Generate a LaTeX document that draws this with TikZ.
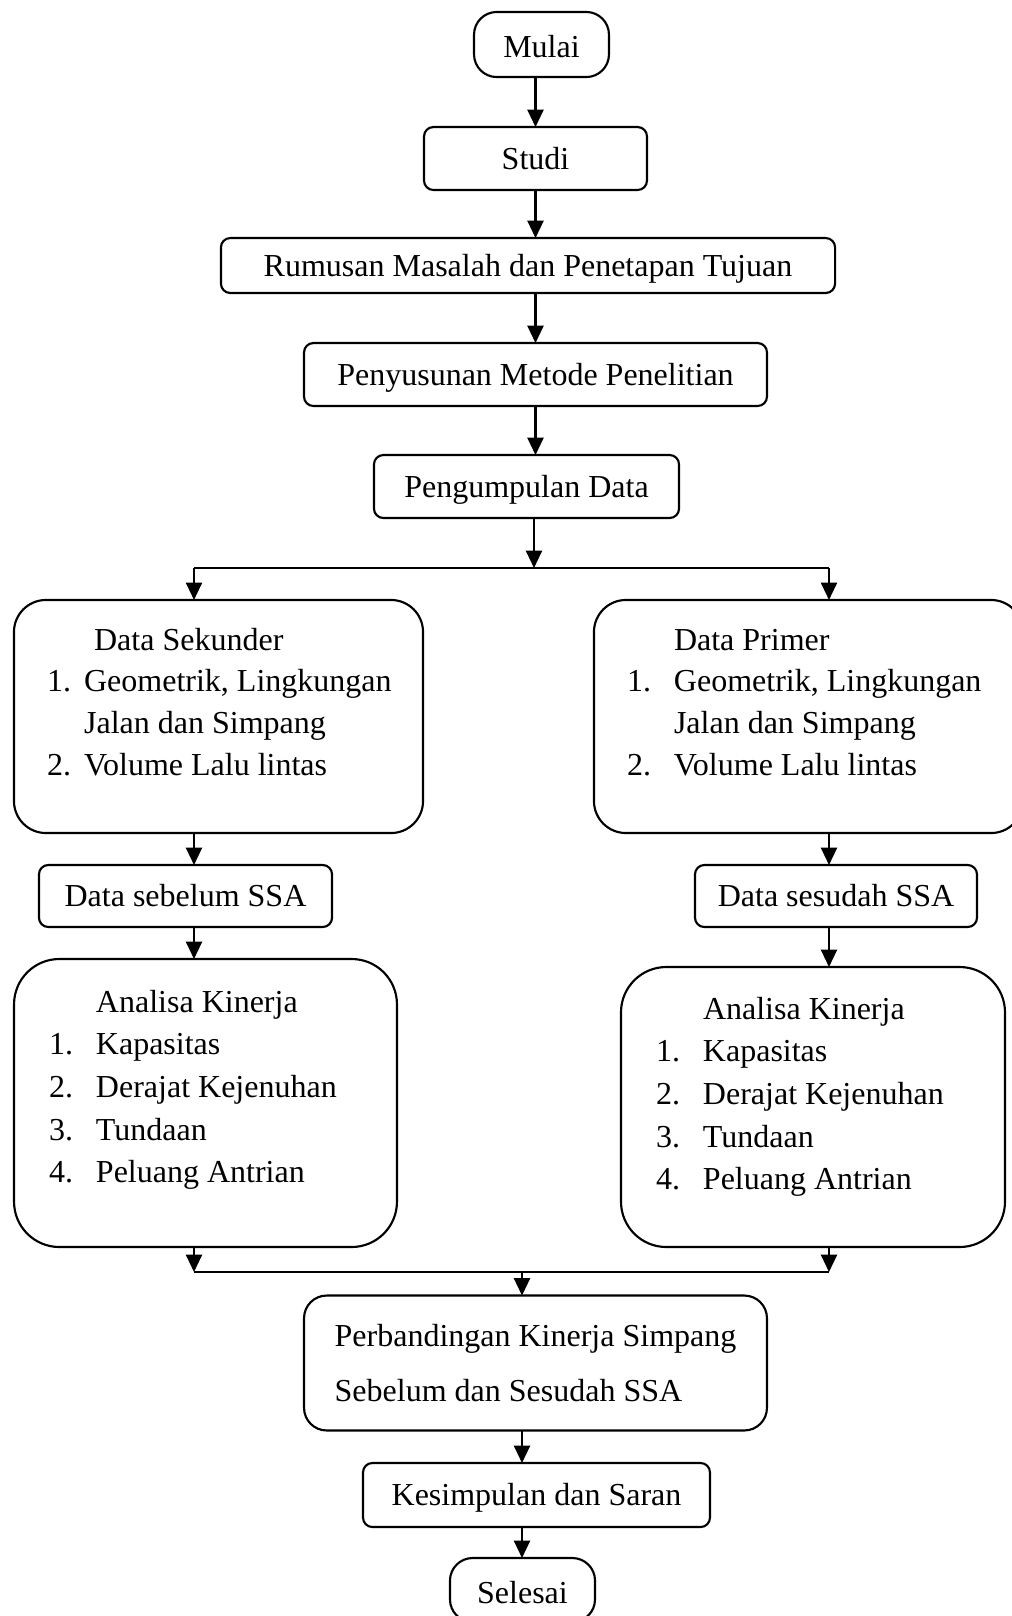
\documentclass[tikz,border=0pt]{standalone}
\usepackage{fontspec}
\setmainfont{Liberation Serif}
\usetikzlibrary{arrows.meta,positioning}
\tikzset{>={Triangle[length=6.5pt,width=6pt]}}

\begin{document}
\begin{tikzpicture}[x=0.375pt, y=-0.375pt, line width=0.8pt, font=\fontsize{12pt}{15.7pt}\selectfont,
    frame/.style={draw, rounded corners=3.5pt, inner sep=0pt, outer sep=0pt},
    box/.style={frame, text height=8.2pt, text depth=0pt},
    startstop/.style={box, rounded corners=8.5pt, text height=10pt},
    bigbox/.style={frame, rounded corners=12pt},
    flow/.style={->},
    list/.style={inner sep=0pt, anchor=base west}]

    \useasboundingbox (0,0) rectangle (1012,1616);

    % Top chain
    \node[startstop, minimum width=50.6pt, minimum height=24.4pt] (mulai) at (541.5,44.5) {Mulai};
    \node[box, minimum width=83.6pt, minimum height=23.6pt] (studi) at (535.5,158.5) {Studi};
    \node[box, minimum width=230.3pt, minimum height=20.6pt] (rumusan) at (528,265.5) {Rumusan Masalah dan Penetapan Tujuan};
    \node[box, minimum width=173.6pt, minimum height=23.6pt] (metode) at (535.5,374.5) {Penyusunan Metode Penelitian};
    \node[box, minimum width=114.4pt, minimum height=23.6pt] (pengumpulan) at (526.5,486.5) {Pengumpulan Data};

    % Data boxes
    \node[bigbox, minimum width=153.4pt, minimum height=87.4pt] (sekunder) at (218.5,716.5) {};
    \node[bigbox, minimum width=160.9pt, minimum height=87.4pt] (primer) at (808.5,716.5) {};
    \node[list] (sekunderTxt) at (46,650) {\begin{tabular}[t]{@{}l@{\hspace{4.9pt}}l@{}}
        & \hspace{3.75pt}Data Sekunder\\
        1. & Geometrik, Lingkungan\\
        & Jalan dan Simpang\\
        2. & Volume Lalu lintas
    \end{tabular}};
    \node[list] (primerTxt) at (626,650) {\begin{tabular}[t]{@{}l@{\hspace{8.6pt}}l@{}}
        & Data Primer\\
        1. & Geometrik, Lingkungan\\
        & Jalan dan Simpang\\
        2. & Volume Lalu lintas
    \end{tabular}};

    \node[box, minimum width=109.9pt, minimum height=23.25pt] (sebelum) at (185.5,896) {Data sebelum SSA};
    \node[box, minimum width=105.75pt, minimum height=23.25pt] (sesudah) at (836,896) {Data sesudah SSA};

    % Analisa boxes
    \node[frame, rounded corners=17pt, minimum width=143.6pt, minimum height=108pt] (analisaL) at (205.5,1103) {};
    \node[frame, rounded corners=17pt, minimum width=144pt, minimum height=105pt] (analisaR) at (813,1107) {};
    \node[list, font=\fontsize{12pt}{16pt}\selectfont] (analisaLTxt) at (48,1012) {\begin{tabular}[t]{@{}l@{\hspace{8.6pt}}l@{}}
        & Analisa Kinerja\\
        1. & Kapasitas\\
        2. & Derajat Kejenuhan\\
        3. & Tundaan\\
        4. & Peluang Antrian
    \end{tabular}};
    \node[list, font=\fontsize{12pt}{16pt}\selectfont] (analisaRTxt) at (655,1019) {\begin{tabular}[t]{@{}l@{\hspace{8.6pt}}l@{}}
        & Analisa Kinerja\\
        1. & Kapasitas\\
        2. & Derajat Kejenuhan\\
        3. & Tundaan\\
        4. & Peluang Antrian
    \end{tabular}};

    % Bottom chain
    \node[frame, rounded corners=8.5pt, align=left, minimum width=173.6pt, minimum height=50.6pt] (banding) at (535.5,1363)
        {Perbandingan Kinerja Simpang\\[4.9pt]Sebelum dan Sesudah SSA};
    \node[box, minimum width=130.1pt, minimum height=24pt] (kesimpulan) at (536.5,1495) {Kesimpulan dan Saran};
    \node[startstop, minimum width=54.4pt, minimum height=24pt] (selesai) at (522.5,1590) {Selesai};

    \coordinate (split) at (534,568);
    \coordinate (splitL) at (194,568);
    \coordinate (splitR) at (829,568);
    \coordinate (join) at (522,1272);
    \coordinate (joinL) at (194,1272);
    \coordinate (joinR) at (829,1272);

    % Arrows
    \draw[flow] (studi.north |- mulai.south) -- (studi.north);
    \draw[flow] (studi.south) -- (studi.south |- rumusan.north);
    \draw[flow] (metode.north |- rumusan.south) -- (metode.north);
    \draw[flow] (metode.south) -- (metode.south |- pengumpulan.north);
    \draw[flow] (split |- pengumpulan.south) -- (split);

    \draw (splitL) -- (splitR);
    \draw[flow] (splitL) -- (splitL |- sekunder.north);
    \draw[flow] (splitR) -- (splitR |- primer.north);
    \draw[flow] (splitL |- sekunder.south) -- (splitL |- sebelum.north);
    \draw[flow] (splitR |- primer.south) -- (splitR |- sesudah.north);
    \draw[flow] (splitL |- sebelum.south) -- (splitL |- analisaL.north);
    \draw[flow] (splitR |- sesudah.south) -- (splitR |- analisaR.north);

    \draw[flow] (joinL |- analisaL.south) -- (joinL);
    \draw[flow] (joinR |- analisaR.south) -- (joinR);
    \draw (joinL) -- (joinR);
    \draw[flow] (join) -- (join |- banding.north);
    \draw[flow] (join |- banding.south) -- (join |- kesimpulan.north);
    \draw[flow] (join |- kesimpulan.south) -- (join |- selesai.north);
\end{tikzpicture}
\end{document}
